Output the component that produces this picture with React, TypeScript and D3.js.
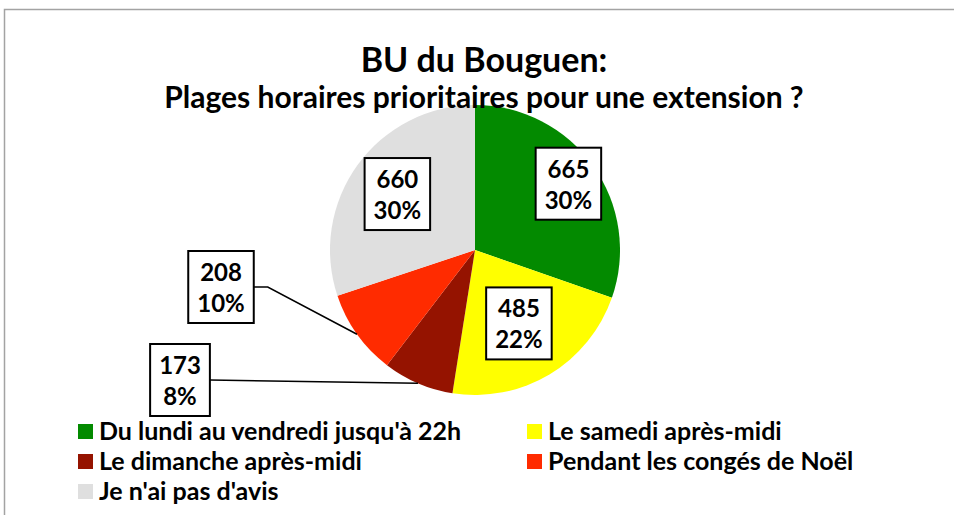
import React, { useEffect, useRef } from "react";
import * as d3 from "d3";

const categories = [
  "Du lundi au vendredi jusqu'à 22h",
  "Le samedi après-midi",
  "Le dimanche après-midi",
  "Pendant les congés de Noël",
  "Je n'ai pas d'avis",
];
const values = [665, 485, 173, 208, 660];
const percentLabels = ["30%", "22%", "8%", "10%", "30%"];
const colors = ["#038a00", "#ffff00", "#951300", "#ff2b00", "#dfdfdf"];
const titleLines = ["BU du Bouguen:", "Plages horaires prioritaires pour une extension ?"];

// label layout: inside labels placed along mid-angle at a radius factor; outside ones by offset from centre
const labelLayout = [
  { kind: "in", rf: 0.79 },
  { kind: "in", rf: 0.59 },
  { kind: "out", dx: -295, dy: 130 },
  { kind: "out", dx: -254, dy: 37 },
  { kind: "in", rf: 0.66 },
];

const W = 954;
const H = 515;
const FONT = "Lato, 'Open Sans', sans-serif";

export default function App() {
  const ref = useRef<SVGSVGElement | null>(null);
  useEffect(() => {
    const svg = d3.select(ref.current);
    svg.selectAll("*").remove();

    svg
      .append("rect")
      .attr("x", 4.5)
      .attr("y", 9.5)
      .attr("width", W + 20)
      .attr("height", H + 20)
      .attr("fill", "white")
      .attr("stroke", "#a3a3a3")
      .attr("stroke-width", 1.5);

    const cx = 475;
    const cy = 250;
    const r = 145;

    const pie = d3.pie<number>().sort(null).value((d) => d);
    const arcs = pie(values);
    const arc = d3.arc<d3.PieArcDatum<number>>().innerRadius(0).outerRadius(r);

    const g = svg.append("g").attr("transform", `translate(${cx},${cy})`);
    g.selectAll("path.slice")
      .data(arcs)
      .join("path")
      .attr("class", "slice")
      .attr("d", arc as any)
      .attr("fill", (_, i) => colors[i]);

    // title
    svg
      .append("text")
      .attr("x", 484)
      .attr("y", 72)
      .attr("text-anchor", "middle")
      .attr("font-family", FONT)
      .attr("font-weight", 700)
      .attr("font-size", 34)
      .text(titleLines[0]);
    svg
      .append("text")
      .attr("x", 484)
      .attr("y", 108)
      .attr("text-anchor", "middle")
      .attr("font-family", FONT)
      .attr("font-weight", 700)
      .attr("font-size", 30)
      .text(titleLines[1]);

    const leaders = g.append("g");
    const labels = g.append("g");

    arcs.forEach((a, i) => {
      const lay = labelLayout[i];
      const mid = (a.startAngle + a.endAngle) / 2;
      let bx: number, by: number;
      if (lay.kind === "in") {
        const rr = r * (lay.rf as number);
        bx = Math.sin(mid) * rr;
        by = -Math.cos(mid) * rr;
      } else {
        bx = lay.dx as number;
        by = lay.dy as number;
      }
      const lines = [String(values[i]), percentLabels[i]];
      const lg = labels.append("g").attr("transform", `translate(${bx},${by})`);
      const rect = lg.append("rect");
      const t = lg
        .append("text")
        .attr("text-anchor", "middle")
        .attr("font-family", FONT)
        .attr("font-weight", 700)
        .attr("font-size", 24);
      t.append("tspan").attr("x", 0).attr("y", -6).text(lines[0]);
      t.append("tspan").attr("x", 0).attr("y", 25).text(lines[1]);
      const bb = (t.node() as SVGTextElement).getBBox();
      const bw = Math.max(bb.width + 18, 56);
      const bh = 72;
      rect
        .attr("x", -bw / 2)
        .attr("y", -bh / 2)
        .attr("width", bw)
        .attr("height", bh)
        .attr("fill", "white")
        .attr("stroke", "black")
        .attr("stroke-width", 2);
      if (lay.kind === "out") {
        const ex = Math.sin(mid) * r;
        const ey = -Math.cos(mid) * r;
        const sx = bx + bw / 2;
        const sy = by;
        const elbowX = sx + (i === 3 ? 14 : 0);
        leaders
          .append("path")
          .attr("d", d3.line()([[sx, sy], [elbowX, sy], [ex, ey]]) as string)
          .attr("fill", "none")
          .attr("stroke", "black")
          .attr("stroke-width", 1.5);
      }
    });

    // legend
    const legX = [78, 527];
    const legY = [424, 454, 484];
    categories.forEach((c, i) => {
      const col = i % 2;
      const row = Math.floor(i / 2);
      svg
        .append("rect")
        .attr("x", legX[col])
        .attr("y", legY[row])
        .attr("width", 15)
        .attr("height", 15)
        .attr("fill", colors[i]);
      svg
        .append("text")
        .attr("x", legX[col] + 21)
        .attr("y", legY[row] + 16)
        .attr("font-family", FONT)
        .attr("font-weight", 700)
        .attr("font-size", 25)
        .text(c);
    });
  }, []);

  return (
    <div style={{ position: "absolute", left: 0, top: 0 }}>
      <svg ref={ref} width={W} height={H} style={{ display: "block" }} />
    </div>
  );
}
